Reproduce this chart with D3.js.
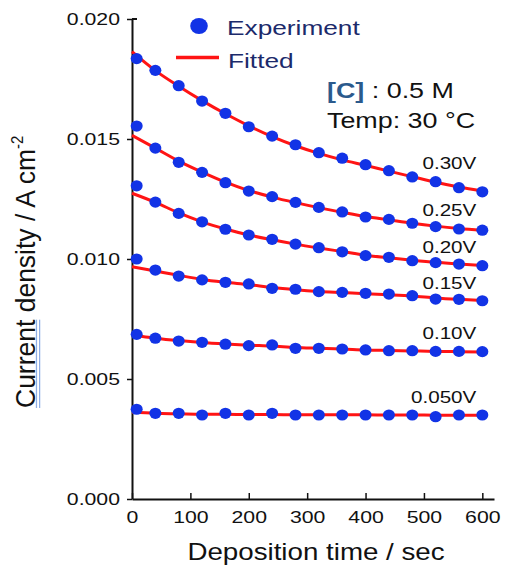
<!DOCTYPE html>
<html>
<head>
<meta charset="utf-8">
<script src="https://cdn.jsdelivr.net/npm/d3@7"></script>
<style>
  html, body { margin: 0; padding: 0; background: #ffffff; }
  svg { display: block; font-family: "Liberation Sans", Arial, Helvetica, sans-serif; }
</style>
</head>
<body>
<div id="chart"></div>
<script>
const seriesLabels = ["0.30V", "0.25V", "0.20V", "0.15V", "0.10V", "0.050V"];

const expTimes = [8, 40, 80, 120, 160, 200, 240, 280, 320, 360, 400, 440, 480, 520, 560, 600];
const fitTimes = [0, 40, 80, 120, 160, 200, 240, 280, 320, 360, 400, 440, 480, 520, 560, 600];

const expValues = [
  [0.01835, 0.01786, 0.01722, 0.01658, 0.01607, 0.01551, 0.01512, 0.01476, 0.01443, 0.01420, 0.01393, 0.01368, 0.01342, 0.01322, 0.01297, 0.01280],
  [0.01554, 0.01462, 0.01403, 0.01361, 0.01318, 0.01283, 0.01260, 0.01236, 0.01215, 0.01196, 0.01175, 0.01165, 0.01149, 0.01135, 0.01125, 0.01120],
  [0.01305, 0.01237, 0.01190, 0.01155, 0.01124, 0.01100, 0.01082, 0.01062, 0.01047, 0.01030, 0.01014, 0.01007, 0.00993, 0.00985, 0.00979, 0.00972],
  [0.01000, 0.00954, 0.00929, 0.00913, 0.00903, 0.00896, 0.00878, 0.00874, 0.00864, 0.00861, 0.00857, 0.00854, 0.00847, 0.00833, 0.00832, 0.00826],
  [0.00686, 0.00670, 0.00658, 0.00653, 0.00645, 0.00639, 0.00642, 0.00628, 0.00628, 0.00625, 0.00621, 0.00618, 0.00618, 0.00615, 0.00615, 0.00614],
  [0.00374, 0.00357, 0.00357, 0.00350, 0.00357, 0.00350, 0.00357, 0.00350, 0.00350, 0.00350, 0.00350, 0.00350, 0.00350, 0.00343, 0.00350, 0.00350]
];

const fitValues = [
  [0.01864, 0.01785, 0.01720, 0.01660, 0.01605, 0.01555, 0.01510, 0.01472, 0.01440, 0.01413, 0.01390, 0.01366, 0.01343, 0.01320, 0.01300, 0.01283],
  [0.01515, 0.01462, 0.01408, 0.01362, 0.01320, 0.01285, 0.01258, 0.01235, 0.01214, 0.01195, 0.01177, 0.01163, 0.01149, 0.01137, 0.01127, 0.01119],
  [0.01274, 0.01236, 0.01192, 0.01155, 0.01125, 0.01100, 0.01080, 0.01062, 0.01046, 0.01031, 0.01016, 0.01005, 0.00995, 0.00986, 0.00979, 0.00973],
  [0.00968, 0.00950, 0.00932, 0.00915, 0.00903, 0.00893, 0.00881, 0.00872, 0.00865, 0.00860, 0.00855, 0.00851, 0.00846, 0.00838, 0.00832, 0.00827],
  [0.00683, 0.00670, 0.00660, 0.00652, 0.00646, 0.00641, 0.00637, 0.00631, 0.00628, 0.00625, 0.00621, 0.00619, 0.00617, 0.00615, 0.00614, 0.00613],
  [0.00361, 0.00357, 0.00355, 0.00353, 0.00353, 0.00352, 0.00352, 0.00351, 0.00351, 0.00351, 0.00351, 0.00350, 0.00350, 0.00349, 0.00349, 0.00349]
];

const xTicks = [0, 100, 200, 300, 400, 500, 600];
const yTicks = [0, 0.005, 0.010, 0.015, 0.020];

const width = 508;
const height = 566;
const margin = { top: 19, right: 14, bottom: 67, left: 132 };

// the source image is stretched sideways, so text is widened to match
const stretch = 1.25;
const pointColor = "#1233e6";
const lineColor = "#ff1414";
const inkColor = "#111111";
const navy = "#1c2a6b";

const svg = d3.select("#chart")
  .append("svg")
  .attr("width", width)
  .attr("height", height);

svg.append("rect")
  .attr("width", width)
  .attr("height", height)
  .attr("fill", "#ffffff");

const x = d3.scaleLinear()
  .domain([0, 620])
  .range([margin.left, width - margin.right]);

const y = d3.scaleLinear()
  .domain([0, 0.02])
  .range([height - margin.bottom, margin.top]);

function addText(parent, px, py, sx) {
  return parent.append("text")
    .attr("transform", `translate(${px}, ${py}) scale(${sx}, 1)`);
}

// axes
const xAxis = svg.append("g")
  .attr("transform", `translate(0, ${y(0)})`)
  .call(d3.axisBottom(x).tickValues(xTicks).tickSizeInner(-6).tickSizeOuter(0).tickPadding(12).tickFormat(d3.format("d")));

xAxis.select(".domain").attr("stroke", inkColor).attr("stroke-width", 2);
xAxis.selectAll(".tick line").attr("stroke", inkColor).attr("stroke-width", 1.5);
xAxis.selectAll(".tick text")
  .attr("font-size", "17px")
  .attr("fill", inkColor)
  .attr("font-family", "Liberation Sans, Arial, sans-serif")
  .attr("transform", `scale(${stretch}, 1)`);

const yAxis = svg.append("g")
  .attr("transform", `translate(${x(0)}, 0)`)
  .call(d3.axisLeft(y).tickValues(yTicks).tickSizeInner(5).tickSizeOuter(0).tickFormat(d3.format(".3f")));

yAxis.select(".domain").attr("stroke", inkColor).attr("stroke-width", 2);
yAxis.selectAll(".tick line").attr("stroke", inkColor).attr("stroke-width", 1.5);
yAxis.selectAll(".tick text")
  .attr("font-size", "17px")
  .attr("fill", inkColor)
  .attr("font-family", "Liberation Sans, Arial, sans-serif")
  .attr("x", -12 / stretch)
  .attr("transform", `scale(${stretch}, 1)`);

// small stub at the top of the y axis
svg.append("line")
  .attr("x1", x(0))
  .attr("x2", x(0) + 5)
  .attr("y1", y(0.02))
  .attr("y2", y(0.02))
  .attr("stroke", inkColor)
  .attr("stroke-width", 2);

// fitted curves
const fitLine = d3.line()
  .x(d => x(d[0]))
  .y(d => y(d[1]))
  .curve(d3.curveMonotoneX);

fitValues.forEach(values => {
  svg.append("path")
    .datum(fitTimes.map((t, i) => [t, values[i]]))
    .attr("fill", "none")
    .attr("stroke", lineColor)
    .attr("stroke-width", 3)
    .attr("d", fitLine);
});

// experiment points
expValues.forEach(values => {
  svg.append("g")
    .selectAll("circle")
    .data(expTimes.map((t, i) => [t, values[i]]))
    .enter()
    .append("ellipse")
    .attr("cx", d => x(d[0]))
    .attr("cy", d => y(d[1]))
    .attr("rx", 6)
    .attr("ry", 5.6)
    .attr("fill", pointColor);
});

// potential labels above the end of each series
const labelNudge = [-23, -14, -13, -12, -13, -12];

seriesLabels.forEach((label, i) => {
  const last = expValues[i][expValues[i].length - 1];
  addText(svg, x(600) - 6, y(last) + labelNudge[i], stretch)
    .attr("text-anchor", "end")
    .attr("font-size", "16.5px")
    .attr("fill", inkColor)
    .text(label);
});

// legend
svg.append("ellipse")
  .attr("cx", 199)
  .attr("cy", 26)
  .attr("rx", 8.8)
  .attr("ry", 8)
  .attr("fill", pointColor);

addText(svg, 227, 35, stretch)
  .attr("font-size", "21px")
  .attr("fill", navy)
  .text("Experiment");

svg.append("line")
  .attr("x1", 176)
  .attr("x2", 219)
  .attr("y1", 57.5)
  .attr("y2", 57.5)
  .attr("stroke", lineColor)
  .attr("stroke-width", 3.5);

addText(svg, 228, 68, stretch)
  .attr("font-size", "21px")
  .attr("fill", navy)
  .text("Fitted");

// conditions
const cond = addText(svg, 327, 98, stretch)
  .attr("font-size", "21.5px")
  .attr("fill", inkColor);

cond.append("tspan")
  .attr("font-weight", "bold")
  .attr("fill", "#2b5a8c")
  .text("[C]");

cond.append("tspan")
  .text(" : 0.5 M");

addText(svg, 327, 128, stretch)
  .attr("font-size", "21.5px")
  .attr("fill", inkColor)
  .text("Temp: 30 \u00B0C");

// axis titles
addText(svg, (x(0) + x(620)) / 2 + 3, 560, 1.18)
  .attr("text-anchor", "middle")
  .attr("font-size", "23.5px")
  .attr("fill", inkColor)
  .text("Deposition time / sec");

const yTitleGroup = svg.append("g")
  .attr("transform", `translate(35, 408) scale(1.05, 1) rotate(-90)`);

const yTitle = yTitleGroup.append("text")
  .attr("font-size", "26.5px")
  .attr("fill", inkColor);

yTitle.append("tspan").text("Current density / A cm");
yTitle.append("tspan")
  .attr("font-size", "15px")
  .attr("dy", -11)
  .text("-2");

// double underline under "Current"
const currentLength = yTitle.node().getSubStringLength(0, 7);

[1.4, 4.4].forEach(offset => {
  yTitleGroup.append("line")
    .attr("x1", 0)
    .attr("x2", currentLength)
    .attr("y1", offset)
    .attr("y2", offset)
    .attr("stroke", "#8eaee6")
    .attr("stroke-width", 1.2);
});
</script>
</body>
</html>
